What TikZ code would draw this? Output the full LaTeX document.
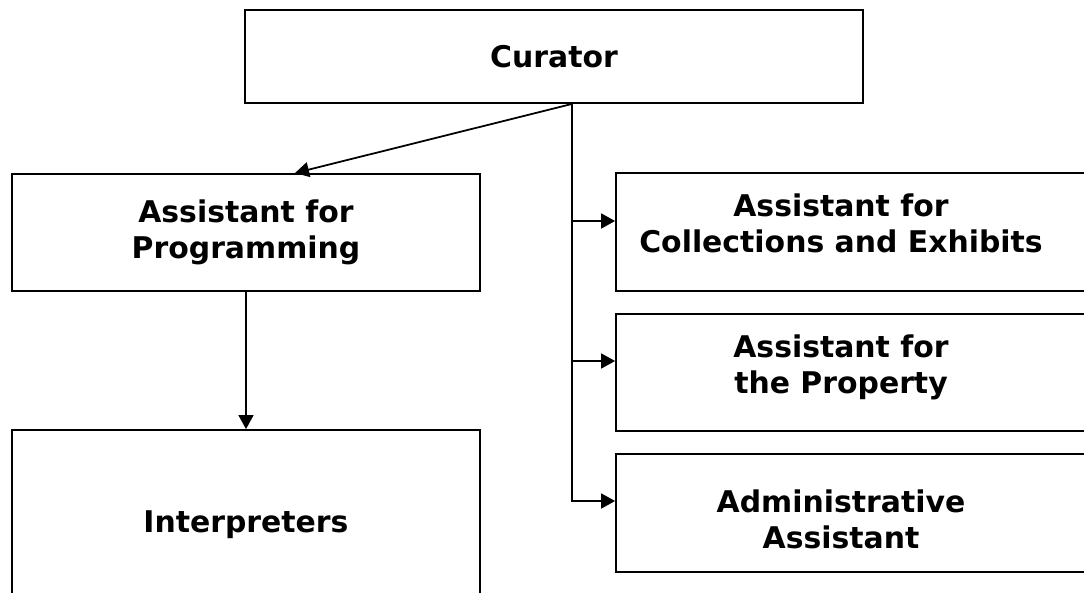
\documentclass[tikz,border=0pt]{standalone}
\usepackage{fontspec}
\setmainfont{DejaVu Sans}
\usepackage{tikz}
\usetikzlibrary{positioning, arrows.meta}

\tikzset{
  post/.style={draw, rectangle, line width=1.1pt, align=center, font=\fontsize{17}{20.5}\selectfont\bfseries},
  postlabel/.style={align=center, font=\fontsize{17}{20.5}\selectfont\bfseries},
  link/.style={line width=1pt, -{Triangle[length=0.28cm, width=0.3cm]}}
}

\begin{document}
\begin{tikzpicture}[x=0.02cm, y=-0.02cm]
                \useasboundingbox (0,0) rectangle (1084,592);
                \clip (0,0) rectangle (1084,592);

                \node[post, minimum width=12.36cm, minimum height=1.86cm] (cur) at (554, 56.5) {Curator};
                \node[post, minimum width=9.36cm, minimum height=2.34cm] (prog) at (246, 232.5) {Assistant for\\Programming};
                \node[post, minimum width=9.36cm, minimum height=3.8cm] (interp) at (246, 525) {Interpreters};

                \node[post, minimum width=9.48cm, minimum height=2.36cm, label={[postlabel, name=colltext, xshift=-0.24cm, yshift=0.18cm]center:Assistant for\\Collections and Exhibits}] (coll) at (853, 232) {};
                \node[post, minimum width=9.48cm, minimum height=2.34cm, label={[postlabel, name=proptext, xshift=-0.24cm, yshift=0.1cm]center:Assistant for\\the Property}] (prop) at (853, 372.5) {};
                \node[post, minimum width=9.48cm, minimum height=2.36cm, label={[postlabel, name=admintext, xshift=-0.24cm, yshift=-0.12cm]center:Administrative\\Assistant}] (admin) at (853, 513) {};

                \coordinate (split) at ([xshift=0.36cm]cur.south);

                \draw[link] (split) -- ([xshift=0.98cm]prog.north);
                \draw[link] (prog) -- (interp);
                \draw[link] (split) |- ([yshift=0.22cm]coll.west);
                \draw[link] (split) |- ([yshift=0.23cm]prop.west);
                \draw[link] (split) |- ([yshift=0.24cm]admin.west);
            \end{tikzpicture}
\end{document}
